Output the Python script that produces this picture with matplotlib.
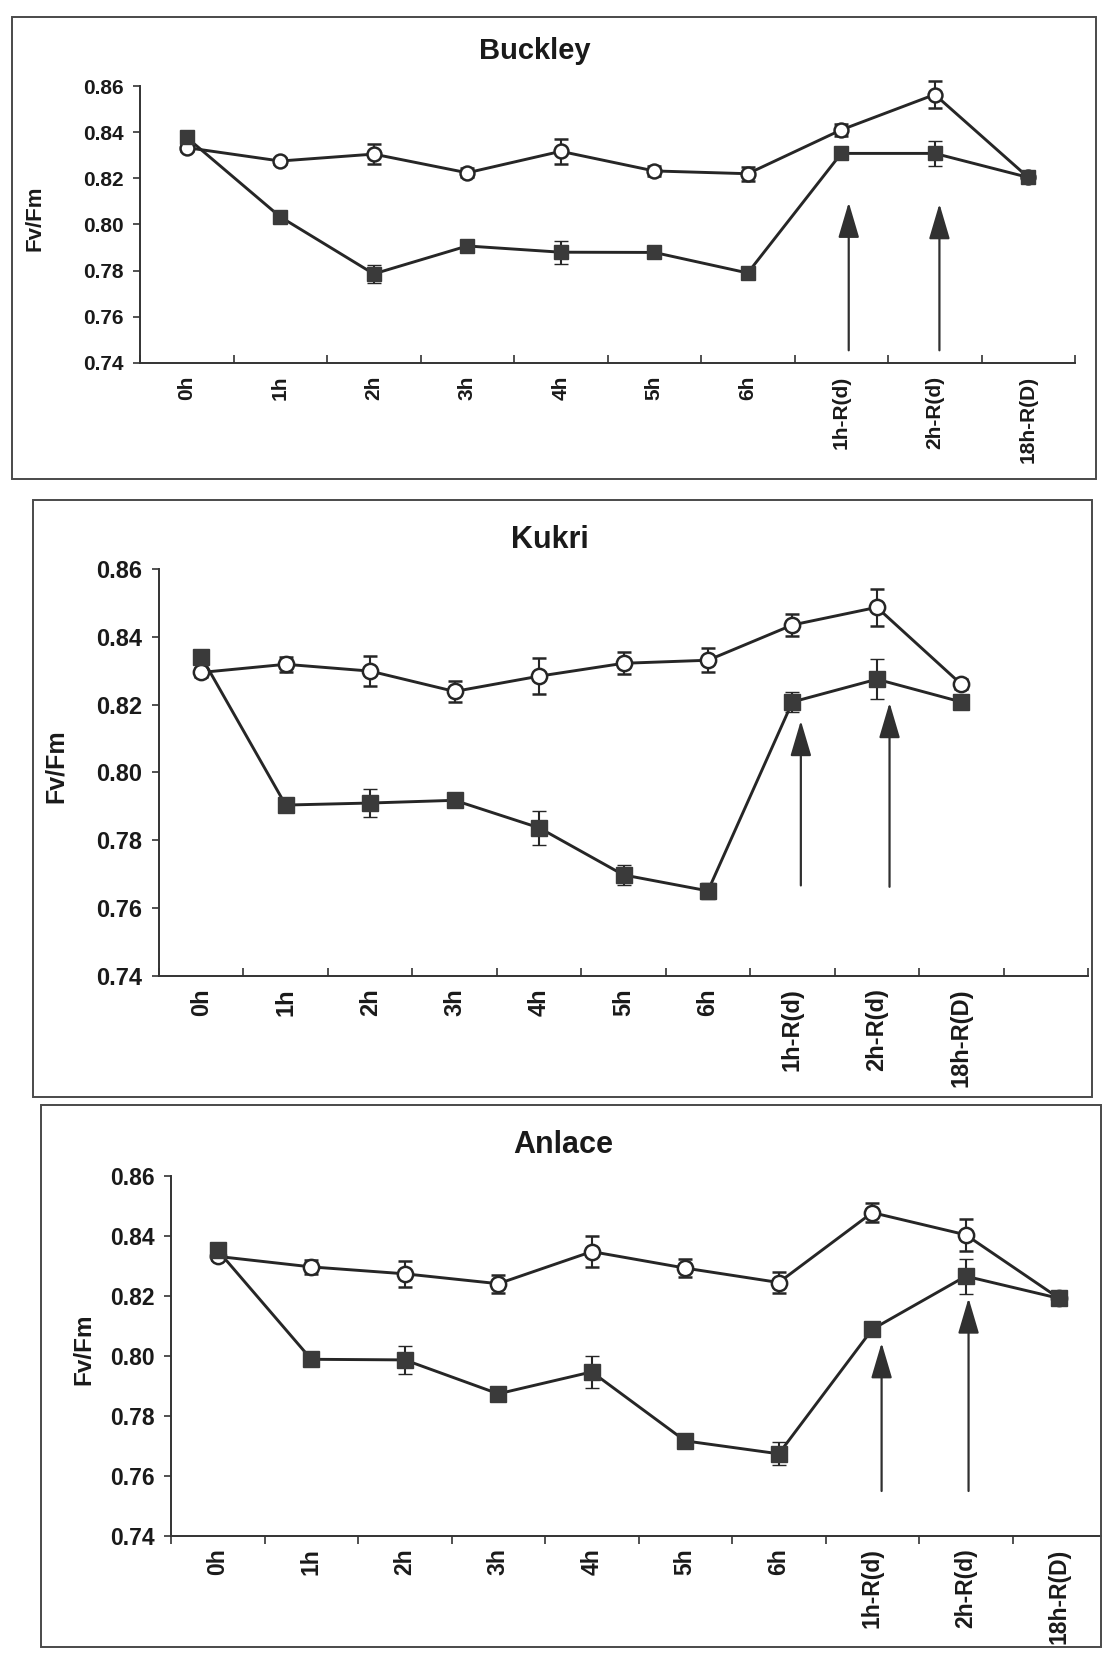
import numpy as np
import matplotlib
matplotlib.use('Agg')
import matplotlib.pyplot as plt
from matplotlib.patches import Rectangle
from matplotlib.ticker import FormatStrFormatter

# categories (time points)
cats = ['0h', '1h', '2h', '3h', '4h', '5h', '6h', '1h-R(d)', '2h-R(d)', '18h-R(D)']

# Buckley: open circles = control, filled squares = treated
buck_ctrl = [0.8333, 0.8275, 0.8305, 0.8224, 0.8317, 0.8232, 0.8220, 0.8410, 0.8563, 0.8204]
buck_ctrl_err = [0.0015, 0.0015, 0.0045, 0.0020, 0.0054, 0.0020, 0.0030, 0.0025, 0.0058, 0.0015]
buck_trt = [0.8377, 0.8033, 0.7786, 0.7907, 0.7880, 0.7879, 0.7790, 0.8308, 0.8308, 0.8204]
buck_trt_err = [0.0015, 0.0015, 0.0040, 0.0015, 0.0050, 0.0015, 0.0015, 0.0020, 0.0055, 0.0015]

# Kukri
kuk_ctrl = [0.8295, 0.8319, 0.8299, 0.8239, 0.8284, 0.8322, 0.8331, 0.8435, 0.8487, 0.8260]
kuk_ctrl_err = [0.0012, 0.0022, 0.0044, 0.0030, 0.0053, 0.0032, 0.0035, 0.0032, 0.0055, 0.0015]
kuk_trt = [0.8342, 0.7904, 0.7910, 0.7918, 0.7837, 0.7698, 0.7651, 0.8208, 0.8275, 0.8208]
kuk_trt_err = [0.0015, 0.0015, 0.0042, 0.0020, 0.0050, 0.0030, 0.0023, 0.0030, 0.0059, 0.0015]

# Anlace
anl_ctrl = [0.8332, 0.8297, 0.8274, 0.8241, 0.8348, 0.8293, 0.8245, 0.8478, 0.8404, 0.8192]
anl_ctrl_err = [0.0012, 0.0022, 0.0044, 0.0030, 0.0052, 0.0030, 0.0036, 0.0032, 0.0054, 0.0012]
anl_trt = [0.8352, 0.7989, 0.7987, 0.7874, 0.7947, 0.7717, 0.7674, 0.8089, 0.8266, 0.8192]
anl_trt_err = [0.0015, 0.0015, 0.0046, 0.0015, 0.0052, 0.0020, 0.0038, 0.0015, 0.0058, 0.0015]

# arrows: (x position, bottom value, tip value)
buck_arrows = [(7.08, 0.7455, 0.8096), (8.05, 0.7455, 0.8090)]
kuk_arrows = [(7.10, 0.7667, 0.8153), (8.15, 0.7663, 0.8206)]
anl_arrows = [(7.10, 0.7550, 0.8044), (8.03, 0.7550, 0.8193)]

W, H = 1102, 1660
plt.rcParams['font.family'] = ['Liberation Sans', 'DejaVu Sans']
plt.rcParams['font.weight'] = 'bold'

LINE = '#262626'
FILL = '#3a3a3a'
BOX = '#4a4a4a'


def fig_rect(l, t, r, b):
    return [l / W, 1 - b / H, (r - l) / W, (b - t) / H]


panels = [
    dict(name='Buckley', ctrl=buck_ctrl, ce=buck_ctrl_err, trt=buck_trt, te=buck_trt_err,
         arrows=buck_arrows, box=(12, 17, 1096, 479), ax=(140, 86, 1075, 363),
         title=(535, 51), ylab=35, nslots=10, tdir='in', fs=15, tfs=21, lfs=16, ms=11),
    dict(name='Kukri', ctrl=kuk_ctrl, ce=kuk_ctrl_err, trt=kuk_trt, te=kuk_trt_err,
         arrows=kuk_arrows, box=(33, 500, 1092, 1097), ax=(159, 569, 1088, 976),
         title=(550, 540), ylab=56, nslots=11, tdir='in', fs=17, tfs=22, lfs=18, ms=12),
    dict(name='Anlace', ctrl=anl_ctrl, ce=anl_ctrl_err, trt=anl_trt, te=anl_trt_err,
         arrows=anl_arrows, box=(41, 1105, 1101, 1647), ax=(171, 1176, 1106, 1536),
         title=(563, 1145), ylab=84, nslots=10, tdir='out', fs=16.5, tfs=22, lfs=17.5, ms=12),
]

fig = plt.figure(figsize=(W / 100, H / 100), dpi=100)

for p in panels:
    l, t, r, b = p['box']
    fig.add_artist(Rectangle((l / W, 1 - b / H), (r - l) / W, (b - t) / H,
                             transform=fig.transFigure, fill=False, ec=BOX, lw=1.4))

    ax = fig.add_axes(fig_rect(*p['ax']))
    x = np.arange(len(cats))

    c1 = ax.errorbar(x, p['ctrl'], yerr=p['ce'], fmt='-o', color=LINE, mfc='white', mec=LINE,
                     ms=p['ms'] - 1, mew=1.8, lw=2.1, capsize=5, elinewidth=1.5, capthick=1.5,
                     zorder=3)
    c2 = ax.errorbar(x, p['trt'], yerr=p['te'], fmt='-s', color=LINE, mfc=FILL, mec=FILL,
                     ms=p['ms'] - 1, mew=1.0, lw=2.1, capsize=5, elinewidth=1.5, capthick=1.5,
                     zorder=4)
    for cont in (c1, c2):
        for art in cont.get_children():
            art.set_clip_on(False)

    for ax_x, y0, y1 in p['arrows']:
        ax.annotate('', xy=(ax_x, y1), xytext=(ax_x, y0),
                    arrowprops=dict(arrowstyle='-|>,head_length=2.2,head_width=0.65',
                                    mutation_scale=10, color='#303030', lw=1.6,
                                    shrinkA=0, shrinkB=0))

    ax.set_xlim(-0.5, p['nslots'] - 0.5)
    ax.set_ylim(0.74, 0.86)
    ax.set_yticks(np.arange(0.74, 0.8601, 0.02))
    ax.yaxis.set_major_formatter(FormatStrFormatter('%.2f'))
    ax.set_xticks(x)
    ax.set_xticklabels(cats, rotation=90)
    ax.set_xticks(np.arange(-0.5, p['nslots']), minor=True)
    ax.tick_params(axis='x', which='major', length=0, pad=9, labelsize=p['fs'])
    ax.tick_params(axis='x', which='minor', length=6, width=1.2, direction=p['tdir'],
                   color='#333333')
    ax.tick_params(axis='y', length=5, width=1.2, pad=7, labelsize=p['fs'], color='#333333')
    for lab in ax.get_xticklabels() + ax.get_yticklabels():
        lab.set_fontweight('bold')
        lab.set_color('#1a1a1a')

    for s in ('top', 'right'):
        ax.spines[s].set_visible(False)
    for s in ('left', 'bottom'):
        ax.spines[s].set_color('#333333')
        ax.spines[s].set_linewidth(1.4)

    tx, ty = p['title']
    fig.text(tx / W, 1 - ty / H, p['name'], ha='center', va='center',
             fontsize=p['tfs'], fontweight='bold', color='#1a1a1a')
    ay = (p['ax'][1] + p['ax'][3]) / 2
    fig.text(p['ylab'] / W, 1 - ay / H + 0.004, 'Fv/Fm', rotation=90, ha='center', va='center',
             fontsize=p['lfs'], fontweight='bold', color='#1a1a1a')

fig.savefig('out.png', dpi=100, facecolor='white')
